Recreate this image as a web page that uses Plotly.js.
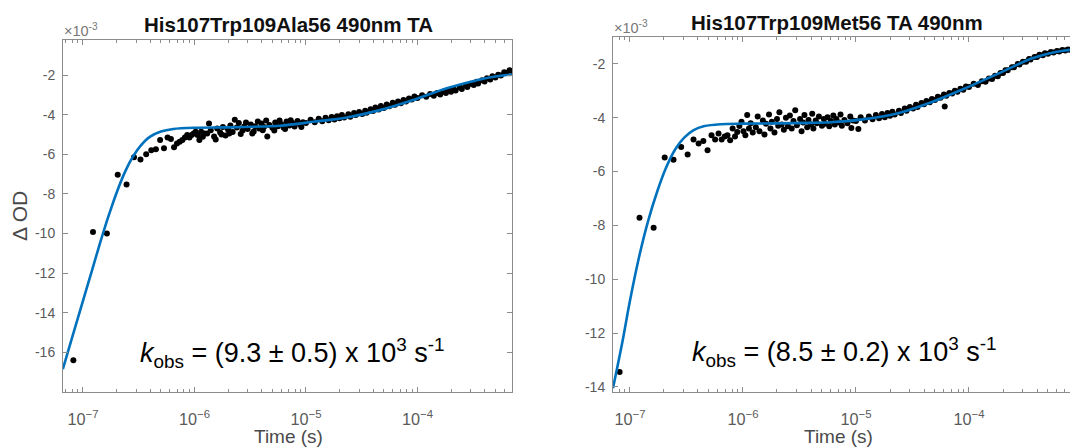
<!DOCTYPE html>
<html>
<head>
<meta charset="utf-8">
<script src="https://cdn.plot.ly/plotly-3.0.1.min.js"></script>
<style>
html,body{margin:0;padding:0;overflow:hidden;background:#fff;}
#chart{width:1080px;height:448px;}
</style>
</head>
<body>
<div id="chart"></div>
<script>
// ---------- DATA (ΔOD in units of 1e-3, time in s) ----------
const titleLeft = "His107Trp109Ala56 490nm TA";
const titleRight = "His107Trp109Met56 TA 490nm";
const kobsLeft = "<i>k</i><sub>obs</sub> = (9.3 ± 0.5) x 10<sup>3</sup> s<sup>-1</sup>";
const kobsRight = "<i>k</i><sub>obs</sub> = (8.5 ± 0.2) x 10<sup>3</sup> s<sup>-1</sup>";
const yTickValsLeft = [-16,-14,-12,-10,-8,-6,-4,-2];
const yTickValsRight = [-14,-12,-10,-8,-6,-4,-2];

// Left panel measured points
const leftTime = [
 8.2e-8,1.23e-7,1.64e-7,2.05e-7,2.46e-7,2.87e-7,3.28e-7,3.69e-7,4.1e-7,4.51e-7,
 4.92e-7,5.33e-7,5.74e-7,6.15e-7,6.56e-7,6.97e-7,7.38e-7,7.79e-7,8.2e-7,8.61e-7,
 9.02e-7,9.43e-7,9.84e-7,1.025e-6,1.066e-6,1.107e-6,1.148e-6,1.189e-6,1.23e-6,
 1.3e-6,1.35e-6,1.4e-6,1.5e-6,1.55e-6,1.6e-6,1.7e-6,1.75e-6,1.8e-6,1.9e-6,2.0e-6,2.05e-6,2.1e-6,2.2e-6,2.3e-6,
 2.4e-6,2.5e-6,2.6e-6,2.7e-6,2.8e-6,2.9e-6,3.0e-6,3.2e-6,3.3e-6,3.4e-6,3.5e-6,3.7e-6,3.8e-6,4.0e-6,4.1e-6,
 4.2e-6,4.4e-6,4.5e-6,4.7e-6,5.0e-6,5.2e-6,5.3e-6,5.6e-6,5.8e-6,6.0e-6,6.3e-6,6.5e-6,6.7e-6,7.1e-6,7.3e-6,
 7.5e-6,7.9e-6,8.1e-6,8.4e-6,8.9e-6,9.1e-6,9.4e-6,
 1.0e-5,1.1e-5,1.2e-5,1.3e-5,1.4e-5,1.5e-5,1.6e-5,1.7e-5,1.8e-5,1.9e-5,2.0e-5,2.1e-5,2.2e-5,2.4e-5,2.5e-5,
 2.7e-5,2.8e-5,3.0e-5,3.2e-5,3.4e-5,3.5e-5,3.8e-5,4.0e-5,4.2e-5,4.5e-5,4.7e-5,5.0e-5,5.3e-5,5.6e-5,6.0e-5,
 6.3e-5,6.7e-5,7.1e-5,7.5e-5,7.9e-5,8.4e-5,8.9e-5,9.4e-5,
 1.0e-4,1.1e-4,1.2e-4,1.3e-4,1.4e-4,1.5e-4,1.6e-4,1.7e-4,1.8e-4,1.9e-4,2.0e-4,2.1e-4,2.2e-4,2.4e-4,2.5e-4,
 2.7e-4,2.8e-4,3.0e-4,3.2e-4,3.4e-4,3.5e-4,3.8e-4,4.0e-4,4.2e-4,4.5e-4,4.7e-4,5.0e-4,5.3e-4,5.6e-4,6.0e-4,
 6.3e-4,6.7e-4,7.1e-4
];
const leftOD = [
 -16.4,-9.92,-10.0,-7.03,-7.52,-6.15,-6.26,-6.0,-5.8,-5.75,
 -5.28,-5.70,-5.15,-5.23,-5.65,-5.45,-5.37,-5.28,-5.15,-5.03,
 -5.15,-5.03,-4.95,-4.86,-5.03,-5.28,-4.86,-5.11,-4.95,
 -4.95,-4.45,-4.78,-5.10,-5.25,-4.70,-4.90,-5.0,-4.62,-5.05,-4.75,-4.95,-4.55,-4.88,-4.25,
 -4.65,-4.42,-4.98,-4.80,-4.60,-4.40,-4.72,-4.50,-4.95,-4.85,-4.58,-4.35,-4.70,-4.45,-4.78,
 -4.62,-4.30,-5.10,-4.52,-4.66,-4.80,-4.40,-4.58,-4.30,-4.48,-4.65,-4.72,-4.35,-4.55,-4.28,
 -4.42,-4.60,-4.45,-4.32,-4.50,-4.62,-4.38,
 -4.42,-4.25,-4.38,-4.20,-4.33,-4.15,-4.28,-4.12,-4.24,-4.08,-4.18,-4.02,-4.14,-3.98,-4.10,
 -3.92,-4.02,-3.86,-3.96,-3.80,-3.90,-3.72,-3.82,-3.64,-3.74,-3.56,-3.66,-3.48,-3.58,-3.40,
 -3.50,-3.34,-3.42,-3.26,-3.34,-3.18,-3.24,-3.08,
 -3.16,-3.02,-3.10,-2.96,-3.04,-2.90,-2.98,-2.84,-2.90,-2.76,-2.84,-2.70,-2.78,-2.62,-2.70,
 -2.52,-2.60,-2.44,-2.50,-2.34,-2.42,-2.26,-2.32,-2.16,-2.22,-2.06,-2.12,-1.98,-2.02,-1.86,
 -1.90,-1.76,-1.80
];
// Left panel fit curve
const leftFitTime = [6.6e-8,7.94e-8,1.0e-7,1.2e-7,1.42e-7,1.7e-7,2.0e-7,2.4e-7,2.82e-7,3.31e-7,3.98e-7,5.0e-7,
 6.46e-7,1e-6,2e-6,4e-6,5.85e-6,1.16e-5,2.32e-5,4.61e-5,9.17e-5,1.83e-4,3.63e-4,5e-4,6.3e-4,7.05e-4];
const leftFitOD = [-16.85,-15.3,-13.4,-11.9,-10.5,-9.1,-7.95,-6.85,-6.1,-5.55,-5.12,-4.85,
 -4.72,-4.66,-4.64,-4.6,-4.56,-4.36,-4.14,-3.77,-3.26,-2.67,-2.22,-2.07,-2.0,-1.98];

// Right panel measured points
const rightTime = [
 8.1e-8,1.215e-7,1.62e-7,2.03e-7,2.43e-7,2.84e-7,3.24e-7,3.65e-7,4.05e-7,4.46e-7,
 4.86e-7,5.27e-7,5.67e-7,6.08e-7,6.48e-7,6.89e-7,7.29e-7,7.7e-7,8.1e-7,8.5e-7,
 8.9e-7,9.3e-7,9.7e-7,1.01e-6,1.05e-6,1.09e-6,1.13e-6,1.17e-6,1.22e-6,
 1.3e-6,1.35e-6,1.4e-6,1.5e-6,1.55e-6,1.6e-6,1.7e-6,1.75e-6,1.8e-6,1.9e-6,2.0e-6,2.05e-6,2.1e-6,2.2e-6,2.3e-6,
 2.4e-6,2.5e-6,2.6e-6,2.7e-6,2.8e-6,2.9e-6,3.0e-6,3.2e-6,3.3e-6,3.4e-6,3.5e-6,3.7e-6,3.8e-6,4.0e-6,4.1e-6,
 4.2e-6,4.4e-6,4.5e-6,4.7e-6,5.0e-6,5.2e-6,5.3e-6,5.6e-6,5.8e-6,6.0e-6,6.3e-6,6.5e-6,6.7e-6,7.1e-6,7.3e-6,
 7.5e-6,7.9e-6,8.4e-6,8.9e-6,9.1e-6,9.4e-6,
 1.0e-5,1.05e-5,1.1e-5,1.2e-5,1.3e-5,1.4e-5,1.5e-5,1.6e-5,1.7e-5,1.8e-5,1.9e-5,2.0e-5,2.1e-5,2.2e-5,2.4e-5,
 2.5e-5,2.7e-5,2.8e-5,3.0e-5,3.2e-5,3.4e-5,3.5e-5,3.8e-5,4.0e-5,4.2e-5,4.5e-5,4.7e-5,5.0e-5,5.3e-5,5.6e-5,
 6.0e-5,6.1e-5,6.3e-5,6.7e-5,7.1e-5,7.5e-5,7.9e-5,8.4e-5,8.9e-5,9.4e-5,
 1.0e-4,1.1e-4,1.2e-4,1.3e-4,1.4e-4,1.5e-4,1.6e-4,1.7e-4,1.8e-4,1.9e-4,2.0e-4,2.1e-4,2.2e-4,2.4e-4,2.5e-4,
 2.7e-4,2.8e-4,3.0e-4,3.2e-4,3.4e-4,3.5e-4,3.8e-4,4.0e-4,4.2e-4,4.5e-4,4.7e-4,5.0e-4,5.3e-4,5.6e-4,6.0e-4,
 6.3e-4,6.7e-4,7.1e-4,7.5e-4,7.9e-4,8.4e-4
];
const rightOD = [
 -13.45,-7.72,-8.09,-5.48,-5.56,-5.09,-5.37,-4.81,-4.96,-4.86,
 -5.21,-4.65,-4.81,-4.59,-4.81,-4.70,-4.65,-4.84,-4.40,-4.70,
 -4.53,-4.31,-4.15,-4.50,-4.65,-3.90,-4.40,-4.20,-4.55,
 -4.35,-3.95,-4.50,-4.10,-4.62,-4.22,-3.88,-4.40,-4.15,-4.55,-4.05,-4.30,-3.80,-4.25,-4.45,
 -4.00,-4.32,-3.92,-4.40,-4.12,-3.72,-4.28,-4.05,-4.50,-4.18,-3.90,-4.35,-4.08,-4.25,-3.85,
 -4.40,-4.10,-4.20,-3.95,-4.30,-4.05,-4.22,-3.98,-4.32,-4.12,-3.92,-4.25,-4.05,-4.18,-3.88,
 -4.30,-4.08,-4.20,-3.95,-4.38,-4.10,
 -4.12,-4.42,-3.98,-4.10,-3.95,-4.06,-3.90,-4.02,-3.86,-3.98,-3.82,-3.93,-3.78,-3.88,-3.74,
 -3.82,-3.66,-3.74,-3.60,-3.66,-3.52,-3.60,-3.45,-3.50,-3.38,-3.42,-3.30,-3.34,-3.22,-3.26,
 -3.14,-3.58,-3.18,-3.08,-3.10,-3.00,-3.03,-2.92,-2.96,-2.84,
 -2.86,-2.74,-2.78,-2.64,-2.66,-2.54,-2.56,-2.44,-2.46,-2.34,-2.34,-2.24,-2.24,-2.12,-2.12,
 -2.00,-2.02,-1.92,-1.92,-1.82,-1.84,-1.74,-1.74,-1.66,-1.68,-1.60,-1.62,-1.56,-1.58,-1.52,
 -1.54,-1.48,-1.50,-1.46,-1.47,-1.44
];
// Right panel fit curve
const rightFitTime = [7.08e-8,8.51e-8,1.0e-7,1.2e-7,1.445e-7,1.74e-7,2.09e-7,2.51e-7,3.02e-7,3.63e-7,4.57e-7,6.31e-7,
 1e-6,2e-6,4e-6,5.9e-6,1.15e-5,2.31e-5,4.52e-5,8.85e-5,1.77e-4,3.47e-4,5.2e-4,6.8e-4,8.7e-4];
const rightFitOD = [-14.05,-12.4,-10.8,-9.2,-7.85,-6.75,-5.85,-5.18,-4.74,-4.47,-4.31,-4.24,
 -4.22,-4.21,-4.19,-4.17,-4.06,-3.84,-3.44,-2.94,-2.38,-1.82,-1.6,-1.51,-1.46];

// ---------- LAYOUT ----------
const W = 1080, H = 448;
const px = x => x / W;
const py = y => 1 - y / H;
const axisCol = '#8c8c8c';
const FONT = 'Liberation Sans, Arial, sans-serif';
const tickFont = {family: FONT, size: 13, color: '#5a5a5a'};

const dotStyle = {color: '#000', size: 6};
const fitStyle = {color: '#0072BD', width: 2.6, shape: 'spline', smoothing: 0.8};

const traces = [
  {x: leftTime, y: leftOD, xaxis: 'x', yaxis: 'y', mode: 'markers', marker: dotStyle, hoverinfo: 'skip'},
  {x: leftFitTime, y: leftFitOD, xaxis: 'x', yaxis: 'y', mode: 'lines', line: fitStyle, hoverinfo: 'skip'},
  {x: rightTime, y: rightOD, xaxis: 'x2', yaxis: 'y2', mode: 'markers', marker: dotStyle, hoverinfo: 'skip'},
  {x: rightFitTime, y: rightFitOD, xaxis: 'x2', yaxis: 'y2', mode: 'lines', line: fitStyle, hoverinfo: 'skip'}
];

function xAxis(dom, rng, anchor) {
  return {
    type: 'log', domain: dom, range: rng, anchor: anchor,
    showline: true, linecolor: axisCol, linewidth: 1, mirror: 'ticks',
    ticks: 'inside', ticklen: 5, tickcolor: axisCol, tickwidth: 1,
    tickmode: 'linear', tick0: 0, dtick: 1, exponentformat: 'power', showexponent: 'all',
    minor: {ticks: 'inside', ticklen: 3, tickcolor: axisCol, dtick: 'D1', showgrid: false},
    showgrid: false, zeroline: false, tickfont: tickFont, ticklabelstandoff: 13
  };
}
function yAxis(dom, rng, anchor, vals) {
  return {
    domain: dom, range: rng, anchor: anchor,
    showline: true, linecolor: axisCol, linewidth: 1, mirror: 'ticks',
    ticks: 'inside', ticklen: 5, tickcolor: axisCol, tickwidth: 1,
    tickmode: 'array', tickvals: vals, ticktext: vals.map(v => String(v)),
    showgrid: false, zeroline: false, tickfont: {family: FONT, size: 14, color: '#5a5a5a'}, ticklabelstandoff: 4
  };
}

const ann = (x, y, text, opts) => Object.assign({
  xref: 'paper', yref: 'paper', x: px(x), y: py(y), text: text, showarrow: false,
  xanchor: 'center', yanchor: 'middle'
}, opts || {});

const layout = {
  width: W, height: H,
  margin: {l: 0, r: 0, t: 0, b: 0},
  paper_bgcolor: '#fff', plot_bgcolor: '#fff',
  showlegend: false,
  font: {family: FONT},
  xaxis: xAxis([px(63), px(512)], [-7.179, -3.152], 'y'),
  yaxis: yAxis([1 - 392 / H, 1 - 40 / H], [-18, -0.23], 'x', yTickValsLeft),
  xaxis2: xAxis([px(613), px(1075)], [-7.150, -3.062], 'y2'),
  yaxis2: yAxis([1 - 392 / H, 1 - 37 / H], [-14.19, -1.0], 'x2', yTickValsRight),
  annotations: [
    ann(288, 25, '<b>' + titleLeft + '</b>', {font: {family: FONT, size: 20.5, color: '#111'}}),
    ann(837, 22, '<b>' + titleRight + '</b>', {font: {family: FONT, size: 20.5, color: '#111'}}),
    ann(62, 30, '×10<sup>-3</sup>', {xanchor: 'left', font: {family: FONT, size: 14.5, color: '#777'}}),
    ann(612, 27, '×10<sup>-3</sup>', {xanchor: 'left', font: {family: FONT, size: 14.5, color: '#777'}}),
    ann(19, 216, 'Δ OD', {textangle: -90, font: {family: FONT, size: 21, color: '#4a4a4a'}}),
    ann(288, 436, 'Time (s)', {font: {family: FONT, size: 19, color: '#4a4a4a'}}),
    ann(838, 436, 'Time (s)', {font: {family: FONT, size: 19, color: '#4a4a4a'}}),
    ann(292, 353, kobsLeft, {font: {family: FONT, size: 27, color: '#000'}}),
    ann(844, 352, kobsRight, {font: {family: FONT, size: 27, color: '#000'}})
  ]
};

Plotly.newPlot('chart', traces, layout, {staticPlot: true, displayModeBar: false});
</script>
</body>
</html>
